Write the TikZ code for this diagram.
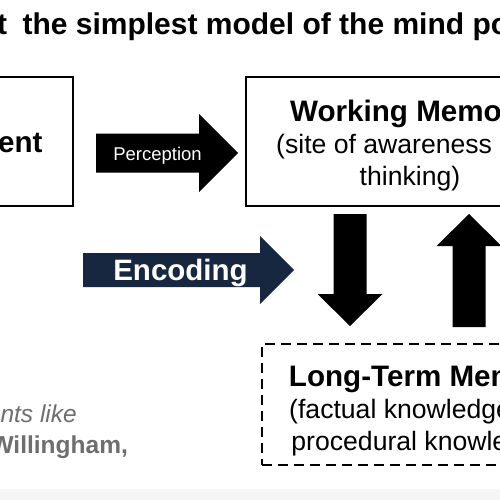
\documentclass[tikz,border=0pt]{standalone}
\usepackage{fontspec}
\setmainfont{Liberation Sans}
\usepackage{tikz}
\usetikzlibrary{
  calc,       % 坐标计算
  positioning % 节点相对定位
}

\definecolor{navy}{HTML}{16273F}
\definecolor{notegrey}{HTML}{6E6E6E}
\definecolor{bandgrey}{HTML}{F5F5F5}

\begin{document}
\begin{tikzpicture}[x=1pt, y=-1pt,
  membox/.style={draw=black, line width=2.2pt, inner sep=0pt, minimum height=129pt},
  ltmbox/.style={draw=black, line width=2.5pt, dash pattern=on 10pt off 6pt, inner sep=0pt},
  boxtext/.style={align=center, inner sep=0pt, font=\fontsize{26.6}{32}\selectfont},
  plain/.style={inner sep=0pt}
]

  % =========== 画布与裁剪 ===========
  \useasboundingbox (0,0) rectangle (500,500);
  \clip (0,0) rectangle (500,500);
  \fill[white] (0,0) rectangle (500,500);
  \fill[bandgrey] (0,489) rectangle (500,500);

  % =========== 标题 ===========
  \node[plain, anchor=base west, font=\fontsize{30}{36}\selectfont\bfseries] (title) at (-3,35)
    {t\hspace{7pt} the simplest model of the mind po};

  % =========== 三个方框 ===========
  % 1. 左侧方框
  \node[membox, minimum width=242pt] (env) at (-48,141.5) {};
  \node[plain, anchor=base, font=\fontsize{29.6}{32}\selectfont\bfseries] (envtext) at (-48,152) {Environment};
  % 2. 工作记忆 (base 取最后一行的基线)
  \node[membox, minimum width=328pt] (wm) at (410,141.5) {};
  \node[boxtext, anchor=base] (wmtext) at (410,185)
    {{\fontsize{29.6}{32}\selectfont\bfseries Working Memory}\\(site of awareness and\\thinking)};
  % 3. 长期记忆 (虚线框)
  \node[ltmbox, minimum width=330pt, minimum height=121pt] (ltm) at (427,404.5) {};
  \node[boxtext, anchor=base] (ltmtext) at (426,450)
    {{\fontsize{29.6}{32}\selectfont\bfseries Long-Term Memory}\\(factual knowledge and\\procedural knowledge)};

  % =========== 块状箭头 ===========
  % 4. Perception
  \fill[black] (96,133.5) -- (199,133.5) -- (199,114) -- (238,153) -- (199,192) -- (199,172.5) -- (96,172.5) -- cycle;
  \node[plain, anchor=base, text=white, font=\fontsize{18.5}{22}\selectfont] (percep) at (157.5,160) {Perception};
  % 5. Encoding
  \fill[navy] (83,253) -- (260,253) -- (260,236) -- (294,270) -- (260,304) -- (260,287) -- (83,287) -- cycle;
  \node[plain, anchor=base, text=white, font=\fontsize{29.5}{32}\selectfont\bfseries] (encode) at (180.5,280) {Encoding};
  % 6. 向下与向上箭头
  \fill[black] (333.5,214) -- (366.5,214) -- (366.5,294) -- (382.5,294) -- (350,326) -- (317.5,294) -- (333.5,294) -- cycle;
  \fill[black] (452.5,327) -- (485.5,327) -- (485.5,246) -- (501.5,246) -- (469,214) -- (436.5,246) -- (452.5,246) -- cycle;

  % =========== 左下灰色注释 ===========
  \node[plain, anchor=base east, text=notegrey, font=\fontsize{24.5}{28}\selectfont\itshape] (note) at (77,422) {nts like};
  \node[plain, anchor=base east, text=notegrey, font=\fontsize{24.5}{28}\selectfont\bfseries] (author) at (128,453) {Willingham,};

\end{tikzpicture}
\end{document}
